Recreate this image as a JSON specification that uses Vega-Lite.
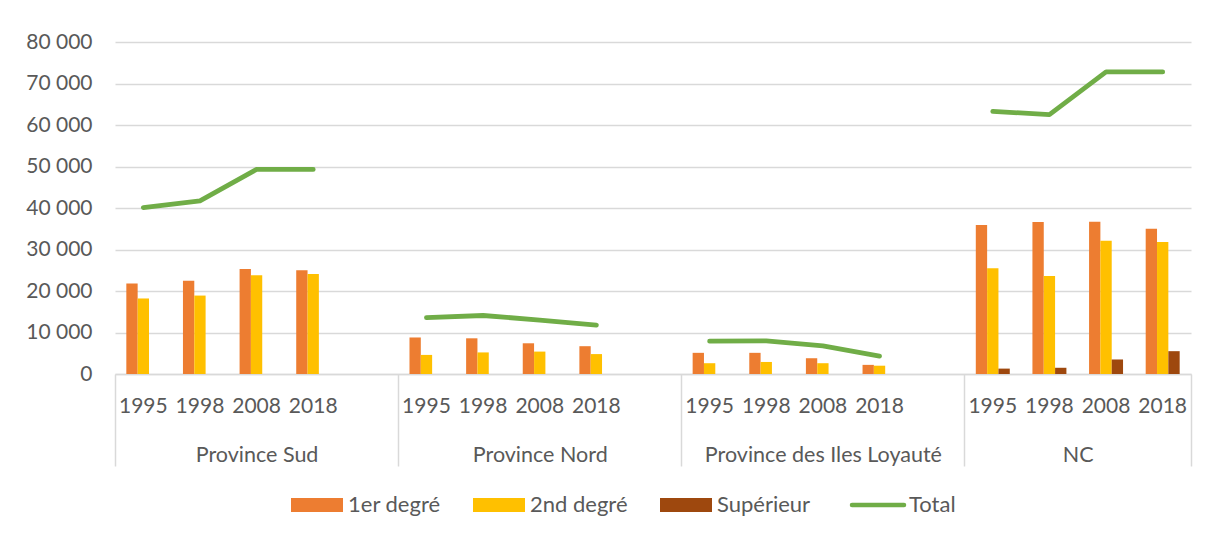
{
  "$schema": "https://vega.github.io/schema/vega-lite/v6.json",
  "width": 1076,
  "height": 332,
  "autosize": {"type": "none"},
  "padding": {"left": 115, "top": 42, "right": 17, "bottom": 161},
  "background": "white",
  "config": {
    "view": {"stroke": null},
    "font": "Lato",
    "axis": {"labelFont": "Lato", "labelColor": "#595959", "labelFontSize": 21}
  },
  "data": {
    "values": [
      {"group": "Province Sud", "slot": "Province Sud|1995", "series": "1er degré", "value": 21800},
      {"group": "Province Sud", "slot": "Province Sud|1998", "series": "1er degré", "value": 22500},
      {"group": "Province Sud", "slot": "Province Sud|2008", "series": "1er degré", "value": 25300},
      {"group": "Province Sud", "slot": "Province Sud|2018", "series": "1er degré", "value": 25000},
      {"group": "Province Sud", "slot": "Province Sud|1995", "series": "2nd degré", "value": 18200},
      {"group": "Province Sud", "slot": "Province Sud|1998", "series": "2nd degré", "value": 18900},
      {"group": "Province Sud", "slot": "Province Sud|2008", "series": "2nd degré", "value": 23800},
      {"group": "Province Sud", "slot": "Province Sud|2018", "series": "2nd degré", "value": 24100},
      {"group": "Province Sud", "slot": "Province Sud|1995", "series": "Total", "value": 40100},
      {"group": "Province Sud", "slot": "Province Sud|1998", "series": "Total", "value": 41700},
      {"group": "Province Sud", "slot": "Province Sud|2008", "series": "Total", "value": 49300},
      {"group": "Province Sud", "slot": "Province Sud|2018", "series": "Total", "value": 49300},
      {"group": "Province Nord", "slot": "Province Nord|1995", "series": "1er degré", "value": 8800},
      {"group": "Province Nord", "slot": "Province Nord|1998", "series": "1er degré", "value": 8600},
      {"group": "Province Nord", "slot": "Province Nord|2008", "series": "1er degré", "value": 7400},
      {"group": "Province Nord", "slot": "Province Nord|2018", "series": "1er degré", "value": 6700},
      {"group": "Province Nord", "slot": "Province Nord|1995", "series": "2nd degré", "value": 4600},
      {"group": "Province Nord", "slot": "Province Nord|1998", "series": "2nd degré", "value": 5200},
      {"group": "Province Nord", "slot": "Province Nord|2008", "series": "2nd degré", "value": 5400},
      {"group": "Province Nord", "slot": "Province Nord|2018", "series": "2nd degré", "value": 4800},
      {"group": "Province Nord", "slot": "Province Nord|1995", "series": "Total", "value": 13600},
      {"group": "Province Nord", "slot": "Province Nord|1998", "series": "Total", "value": 14100},
      {"group": "Province Nord", "slot": "Province Nord|2008", "series": "Total", "value": 13000},
      {"group": "Province Nord", "slot": "Province Nord|2018", "series": "Total", "value": 11800},
      {"group": "Province des Iles Loyauté", "slot": "Province des Iles Loyauté|1995", "series": "1er degré", "value": 5100},
      {"group": "Province des Iles Loyauté", "slot": "Province des Iles Loyauté|1998", "series": "1er degré", "value": 5100},
      {"group": "Province des Iles Loyauté", "slot": "Province des Iles Loyauté|2008", "series": "1er degré", "value": 3800},
      {"group": "Province des Iles Loyauté", "slot": "Province des Iles Loyauté|2018", "series": "1er degré", "value": 2200},
      {"group": "Province des Iles Loyauté", "slot": "Province des Iles Loyauté|1995", "series": "2nd degré", "value": 2600},
      {"group": "Province des Iles Loyauté", "slot": "Province des Iles Loyauté|1998", "series": "2nd degré", "value": 2900},
      {"group": "Province des Iles Loyauté", "slot": "Province des Iles Loyauté|2008", "series": "2nd degré", "value": 2600},
      {"group": "Province des Iles Loyauté", "slot": "Province des Iles Loyauté|2018", "series": "2nd degré", "value": 2000},
      {"group": "Province des Iles Loyauté", "slot": "Province des Iles Loyauté|1995", "series": "Total", "value": 7900},
      {"group": "Province des Iles Loyauté", "slot": "Province des Iles Loyauté|1998", "series": "Total", "value": 8000},
      {"group": "Province des Iles Loyauté", "slot": "Province des Iles Loyauté|2008", "series": "Total", "value": 6800},
      {"group": "Province des Iles Loyauté", "slot": "Province des Iles Loyauté|2018", "series": "Total", "value": 4300},
      {"group": "NC", "slot": "NC|1995", "series": "1er degré", "value": 35900},
      {"group": "NC", "slot": "NC|1998", "series": "1er degré", "value": 36600},
      {"group": "NC", "slot": "NC|2008", "series": "1er degré", "value": 36700},
      {"group": "NC", "slot": "NC|2018", "series": "1er degré", "value": 35000},
      {"group": "NC", "slot": "NC|1995", "series": "2nd degré", "value": 25500},
      {"group": "NC", "slot": "NC|1998", "series": "2nd degré", "value": 23600},
      {"group": "NC", "slot": "NC|2008", "series": "2nd degré", "value": 32100},
      {"group": "NC", "slot": "NC|2018", "series": "2nd degré", "value": 31800},
      {"group": "NC", "slot": "NC|1995", "series": "Supérieur", "value": 1300},
      {"group": "NC", "slot": "NC|1998", "series": "Supérieur", "value": 1500},
      {"group": "NC", "slot": "NC|2008", "series": "Supérieur", "value": 3500},
      {"group": "NC", "slot": "NC|2018", "series": "Supérieur", "value": 5500},
      {"group": "NC", "slot": "NC|1995", "series": "Total", "value": 63300},
      {"group": "NC", "slot": "NC|1998", "series": "Total", "value": 62500},
      {"group": "NC", "slot": "NC|2008", "series": "Total", "value": 72800},
      {"group": "NC", "slot": "NC|2018", "series": "Total", "value": 72800}
    ]
  },
  "layer": [
    {
      "transform": [{"filter": "datum.series !== 'Total'"}],
      "mark": {"type": "bar"},
      "encoding": {
        "x": {
          "field": "slot",
          "type": "nominal",
          "sort": null,
          "scale": {
            "domain": [
              "Province Sud|1995", "Province Sud|1998", "Province Sud|2008", "Province Sud|2018", "Province Sud|",
              "Province Nord|1995", "Province Nord|1998", "Province Nord|2008", "Province Nord|2018", "Province Nord|",
              "Province des Iles Loyauté|1995", "Province des Iles Loyauté|1998", "Province des Iles Loyauté|2008", "Province des Iles Loyauté|2018", "Province des Iles Loyauté|",
              "NC|1995", "NC|1998", "NC|2008", "NC|2018"
            ],
            "paddingInner": 0,
            "paddingOuter": 0
          },
          "axis": {
            "orient": "bottom",
            "title": null,
            "ticks": false,
            "domain": true,
            "domainColor": "#d9d9d9",
            "domainWidth": 1.5,
            "labelExpr": "datum.value ? split(datum.value, '|')[1] : ''",
            "labelAngle": 0,
            "labelPadding": 21,
            "labelBaseline": "top",
            "labelOverlap": false,
            "labelBound": false,
            "labelFlush": false
          }
        },
        "xOffset": {
          "field": "series",
          "type": "nominal",
          "scale": {"domain": ["1er degré", "2nd degré", "Supérieur"], "paddingInner": 0, "paddingOuter": 1.1}
        },
        "y": {
          "field": "value",
          "type": "quantitative",
          "scale": {"domain": [0, 80000]},
          "axis": {
            "title": null,
            "values": [0, 10000, 20000, 30000, 40000, 50000, 60000, 70000, 80000],
            "domain": false,
            "ticks": false,
            "grid": true,
            "gridColor": "#d9d9d9",
            "gridWidth": 1.5,
            "labelPadding": 23,
            "labelExpr": "datum.value == 0 ? '0' : (datum.value / 1000) + ' 000'"
          }
        },
        "color": {
          "field": "series",
          "type": "nominal",
          "scale": {
            "domain": ["1er degré", "2nd degré", "Supérieur", "Total"],
            "range": ["#ED7D31", "#FFC000", "#9E480E", "#70AD47"]
          },
          "legend": {
            "title": null,
            "orient": "none",
            "legendX": 191,
            "legendY": 452,
            "direction": "horizontal",
            "columns": 4,
            "symbolSize": 2704,
            "symbolType": "square",
            "labelFont": "Lato",
            "labelFontSize": 22,
            "labelColor": "#595959",
            "labelOffset": 20,
            "columnPadding": 32,
            "labelLimit": 300,
            "padding": 0,
            "encode": {
              "symbols": {
                "update": {
                  "shape": {"signal": "datum.value === 'Total' ? 'M-1,0H1' : 'M-1,-0.27H1V0.27H-1Z'"},
                  "fill": {"signal": "datum.value === 'Total' ? 'transparent' : scale('color', datum.value)"},
                  "stroke": {"signal": "datum.value === 'Total' ? '#70AD47' : 'transparent'"},
                  "strokeWidth": {"signal": "datum.value === 'Total' ? 4.5 : 0"},
                  "strokeCap": {"value": "round"},
                  "opacity": {"value": 1},
                  "fillOpacity": {"value": 1}
                }
              }
            }
          }
        }
      }
    },
    {
      "transform": [{"filter": "datum.series === 'Total'"}],
      "mark": {"type": "line", "strokeWidth": 4.8, "strokeCap": "round", "strokeJoin": "round"},
      "encoding": {
        "x": {
          "field": "slot",
          "type": "nominal",
          "sort": null,
          "axis": {
            "orient": "bottom",
            "title": null,
            "domain": false,
            "ticks": true,
            "tickBand": "extent",
            "tickSize": 92,
            "tickColor": "#d9d9d9",
            "tickWidth": 1.5,
            "tickOpacity": {
              "condition": {"test": "!datum.value || indexof(datum.value, '|') == length(datum.value) - 1 || datum.value == 'NC|2018'", "value": 1},
              "value": 0
            },
            "labelExpr": "!datum.value ? '' : (datum.value == 'NC|1998' ? 'NC' : (indexof(datum.value, '|2008') > 0 && indexof(datum.value, 'NC|') < 0 ? split(datum.value, '|')[0] : ''))",
            "labelOffset": {
              "condition": {"test": "datum.value == 'NC|1998'", "value": 28.3},
              "value": 0
            },
            "labelAngle": 0,
            "labelPadding": -22,
            "labelBaseline": "top",
            "labelFontSize": 21.5,
            "labelOverlap": false,
            "labelBound": false,
            "labelFlush": false,
            "labelLimit": 400
          }
        },
        "y": {"field": "value", "type": "quantitative"},
        "color": {"field": "series", "type": "nominal"},
        "detail": {"field": "group"}
      }
    }
  ],
  "resolve": {"axis": {"x": "independent"}}
}
